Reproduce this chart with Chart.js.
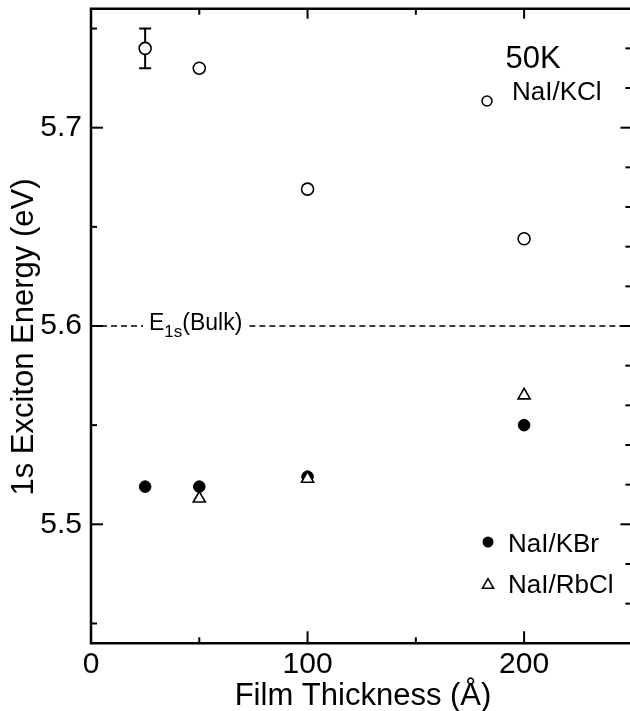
<!DOCTYPE html>
<html>
<head>
<meta charset="utf-8">
<script src="https://cdn.jsdelivr.net/npm/chart.js@4"></script>
<style>
  html, body { margin: 0; padding: 0; background: #fff; overflow: hidden; }
  canvas { display: block; }
</style>
</head>
<body>
<canvas id="chart" width="634" height="711"></canvas>
<script>
// Datos (energia del excitón 1s vs espesor de película)
const kclThickness = [25, 50, 100, 200];
const kclEnergy = [5.740, 5.730, 5.669, 5.644];
const kclError = [0.010, 0, 0, 0];

const kbrThickness = [25, 50, 100, 200];
const kbrEnergy = [5.519, 5.519, 5.524, 5.550];

const rbclThickness = [50, 100, 200];
const rbclEnergy = [5.513, 5.523, 5.565];

const bulkEnergy = 5.6;

const xTickLabels = [0, 100, 200];
const yTickLabels = [5.5, 5.6, 5.7];

const FONT = '"Liberation Sans", Arial, Helvetica, sans-serif';
// el eje derecho queda justo fuera de la ventana, como en la figura
const TARGET_RIGHT = 632.3;

function toPoints(xs, ys) {
    return xs.map((x, i) => ({ x: x, y: ys[i] }));
}

// Marco, ticks interiores, línea de referencia, barra de error, leyenda y títulos
const decorPlugin = {
    id: 'decor',
    beforeDatasetsDraw(chart) {
        const ctx = chart.ctx;
        const xs = chart.scales.x;
        const ys = chart.scales.y;
        const area = chart.chartArea;

        // Línea E1s(Bulk)
        const yb = ys.getPixelForValue(bulkEnergy);
        ctx.save();
        ctx.strokeStyle = '#000';
        ctx.lineWidth = 1.5;
        ctx.setLineDash([6, 4]);
        const labelX = 149;
        ctx.font = '23px ' + FONT;
        const wE = ctx.measureText('E').width;
        ctx.font = '17px ' + FONT;
        const wSub = ctx.measureText('1s').width;
        ctx.font = '23px ' + FONT;
        const wBulk = ctx.measureText('(Bulk)').width;
        const labelEnd = labelX + wE + wSub + wBulk;
        ctx.beginPath();
        ctx.moveTo(area.left, yb);
        ctx.lineTo(labelX - 6, yb);
        ctx.moveTo(labelEnd + 7, yb);
        ctx.lineTo(area.right, yb);
        ctx.stroke();
        ctx.setLineDash([]);

        ctx.fillStyle = '#000';
        ctx.textBaseline = 'alphabetic';
        ctx.textAlign = 'left';
        ctx.font = '23px ' + FONT;
        ctx.fillText('E', labelX, yb + 4);
        ctx.font = '17px ' + FONT;
        ctx.fillText('1s', labelX + wE, yb + 11);
        ctx.font = '23px ' + FONT;
        ctx.fillText('(Bulk)', labelX + wE + wSub, yb + 4);

        // Barras de error
        ctx.lineWidth = 2;
        kclThickness.forEach((t, i) => {
            const e = kclError[i];
            if (!e) return;
            const px = xs.getPixelForValue(t);
            const y1 = ys.getPixelForValue(kclEnergy[i] + e);
            const y2 = ys.getPixelForValue(kclEnergy[i] - e);
            ctx.beginPath();
            ctx.moveTo(px, y1);
            ctx.lineTo(px, y2);
            ctx.moveTo(px - 6, y1);
            ctx.lineTo(px + 6, y1);
            ctx.moveTo(px - 6, y2);
            ctx.lineTo(px + 6, y2);
            ctx.stroke();
        });
        ctx.restore();
    },
    afterDraw(chart) {
        const ctx = chart.ctx;
        const xs = chart.scales.x;
        const ys = chart.scales.y;
        const area = chart.chartArea;
        ctx.save();
        ctx.strokeStyle = '#000';
        ctx.fillStyle = '#000';

        // Marco
        ctx.lineWidth = 2.5;
        ctx.beginPath();
        ctx.moveTo(area.right, area.top);
        ctx.lineTo(area.left, area.top);
        ctx.lineTo(area.left, area.bottom);
        ctx.lineTo(area.right, area.bottom);
        ctx.lineTo(area.right, area.top);
        ctx.stroke();

        // Ticks eje x (abajo y arriba, hacia dentro)
        ctx.lineWidth = 2;
        [50, 100, 150, 200].forEach(v => {
            const px = xs.getPixelForValue(v);
            const major = v % 100 === 0;
            ctx.beginPath();
            ctx.moveTo(px, area.bottom);
            ctx.lineTo(px, area.bottom - (major ? 12 : 6));
            ctx.moveTo(px, area.top);
            ctx.lineTo(px, area.top + (major ? 10 : 6));
            ctx.stroke();
        });

        // Ticks eje y izquierdo
        [5.45, 5.5, 5.55, 5.6, 5.65, 5.7, 5.75].forEach(v => {
            const py = ys.getPixelForValue(v);
            const major = yTickLabels.some(t => Math.abs(t - v) < 1e-6);
            ctx.beginPath();
            ctx.moveTo(area.left, py);
            ctx.lineTo(area.left + (major ? 12 : 6), py);
            ctx.stroke();
        });

        // Ticks eje y derecho cada 0.02
        for (let k = 0; k <= 14; k++) {
            const v = 5.46 + k * 0.02;
            const py = ys.getPixelForValue(v);
            const major = yTickLabels.some(t => Math.abs(t - v) < 1e-6);
            ctx.beginPath();
            ctx.moveTo(area.right, py);
            ctx.lineTo(area.right - (major ? 12 : 7), py);
            ctx.stroke();
        }

        // Leyenda
        ctx.textAlign = 'center';
        ctx.textBaseline = 'alphabetic';
        ctx.font = '31px ' + FONT;
        ctx.fillText('50K', 533, 68);

        ctx.textAlign = 'left';
        ctx.font = '26px ' + FONT;
        ctx.lineWidth = 1.5;
        ctx.beginPath();
        ctx.arc(487, 101, 5, 0, Math.PI * 2);
        ctx.stroke();
        ctx.fillText('NaI/KCl', 512, 100);

        ctx.beginPath();
        ctx.arc(488, 542, 5.5, 0, Math.PI * 2);
        ctx.fill();
        ctx.fillText('NaI/KBr', 508, 552);

        ctx.beginPath();
        const r = 6.5;
        ctx.moveTo(488, 585 - r);
        ctx.lineTo(488 + r * 0.866, 585 + r * 0.5);
        ctx.lineTo(488 - r * 0.866, 585 + r * 0.5);
        ctx.closePath();
        ctx.stroke();
        ctx.fillText('NaI/RbCl', 508, 593);

        // Títulos de ejes
        ctx.textAlign = 'center';
        ctx.font = '31px ' + FONT;
        ctx.fillText('Film Thickness (Å)', 363, 705);
        ctx.translate(33, 337);
        ctx.rotate(-Math.PI / 2);
        ctx.fillText('1s Exciton Energy (eV)', 0, 0);
        ctx.restore();
    }
};

function makeConfig() {
    return {
        type: 'scatter',
        data: {
            datasets: [
                {
                    label: 'NaI/RbCl',
                    data: toPoints(rbclThickness, rbclEnergy),
                    pointStyle: 'triangle',
                    pointRadius: 7,
                    pointBackgroundColor: '#fff',
                    pointBorderColor: '#000',
                    pointBorderWidth: 1.6,
                    order: 0
                },
                {
                    label: 'NaI/KBr',
                    data: toPoints(kbrThickness, kbrEnergy),
                    pointStyle: 'circle',
                    pointRadius: 5.8,
                    pointBackgroundColor: '#000',
                    pointBorderColor: '#000',
                    pointBorderWidth: 1,
                    order: 1
                },
                {
                    label: 'NaI/KCl',
                    data: toPoints(kclThickness, kclEnergy),
                    pointStyle: 'circle',
                    pointRadius: 6,
                    pointBackgroundColor: '#fff',
                    pointBorderColor: '#000',
                    pointBorderWidth: 1.6,
                    order: 2
                }
            ]
        },
        options: {
            responsive: false,
            animation: false,
            devicePixelRatio: 1,
            layout: { padding: { top: 8.7, right: 0, bottom: 0, left: 0 } },
            plugins: { legend: { display: false }, tooltip: { enabled: false } },
            scales: {
                x: {
                    type: 'linear',
                    min: 0,
                    max: 250,
                    grid: { display: false, drawTicks: false },
                    border: { display: false },
                    afterBuildTicks: s => { s.ticks = xTickLabels.map(v => ({ value: v })); },
                    afterFit: s => {
                        s.height = 67.7;
                        s.paddingLeft = 0;
                        s.paddingRight = 0;
                    },
                    ticks: {
                        color: '#000',
                        font: { family: FONT, size: 30, lineHeight: 1.4 },
                        padding: 0,
                        maxRotation: 0,
                        autoSkip: false,
                        callback: v => String(v)
                    }
                },
                y: {
                    type: 'linear',
                    min: 5.44,
                    max: 5.76,
                    grid: { display: false, drawTicks: false },
                    border: { display: false },
                    afterBuildTicks: s => { s.ticks = yTickLabels.map(v => ({ value: v })); },
                    afterFit: s => {
                        s.width = 91;
                        s.paddingTop = 0;
                        s.paddingBottom = 0;
                    },
                    ticks: {
                        color: '#000',
                        font: { family: FONT, size: 30 },
                        padding: 9,
                        autoSkip: false,
                        callback: v => v.toFixed(1)
                    }
                }
            }
        },
        plugins: [decorPlugin]
    };
}

const canvas = document.getElementById('chart');
let chart = new Chart(canvas.getContext('2d'), makeConfig());

// Ajuste del ancho del lienzo para que el área del gráfico acabe donde en la figura
const diff = Math.round(TARGET_RIGHT - chart.chartArea.right);
if (diff !== 0) {
    chart.destroy();
    canvas.width = 634 + diff;
    canvas.height = 711;
    chart = new Chart(canvas.getContext('2d'), makeConfig());
}
</script>
</body>
</html>
